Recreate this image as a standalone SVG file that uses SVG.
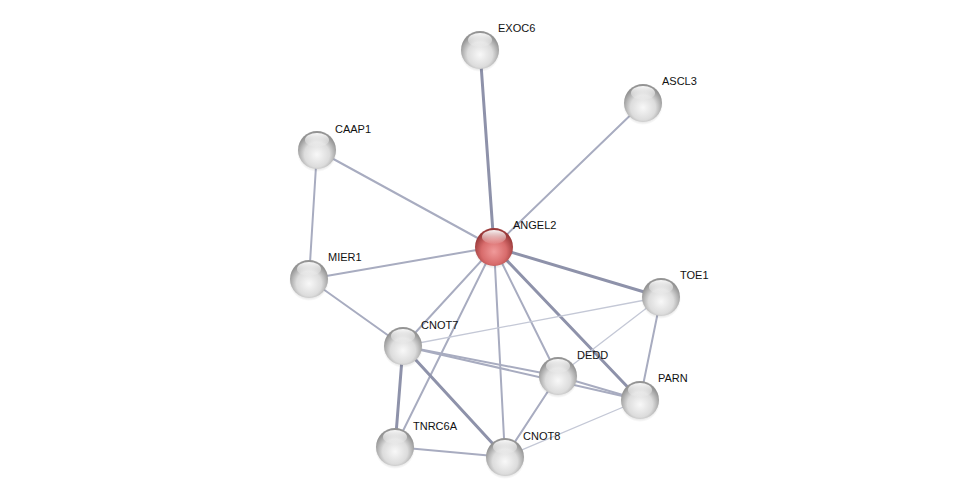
<svg xmlns="http://www.w3.org/2000/svg" width="976" height="503" viewBox="0 0 976 503">
<defs>
<radialGradient id="gg" cx="50%" cy="62%" r="55%">
<stop offset="0" stop-color="#f8f8f8"/>
<stop offset="0.6" stop-color="#dcdcdc"/>
<stop offset="1" stop-color="#949494"/>
</radialGradient>
<radialGradient id="rg" cx="50%" cy="62%" r="55%">
<stop offset="0" stop-color="#f09a9a"/>
<stop offset="0.6" stop-color="#d86c6c"/>
<stop offset="1" stop-color="#9a3a3a"/>
</radialGradient>
<linearGradient id="hl" x1="0" y1="0" x2="0" y2="1">
<stop offset="0" stop-color="#ffffff" stop-opacity="0.95"/>
<stop offset="1" stop-color="#ffffff" stop-opacity="0.05"/>
</linearGradient>
<radialGradient id="sh" cx="50%" cy="50%" r="50%">
<stop offset="0.6" stop-color="#000" stop-opacity="0.25"/>
<stop offset="1" stop-color="#000" stop-opacity="0"/>
</radialGradient>
</defs>
<style>
.e{fill:none;stroke-linecap:round}
.t{stroke:#c4c8d6;stroke-width:1.3}
.m{stroke:#a8acc0;stroke-width:2}
.k{stroke:#8e92aa;stroke-width:3}
text{font-family:"Liberation Sans",Arial,sans-serif;font-size:11px;fill:#111}
</style>
<rect width="976" height="503" fill="#fff"/>
<g id="edges">
<line class="e k" x1="494" y1="247" x2="480" y2="50"/>
<line class="e m" x1="494" y1="247" x2="643" y2="103"/>
<line class="e m" x1="494" y1="247" x2="317" y2="150"/>
<line class="e m" x1="494" y1="247" x2="309" y2="279"/>
<line class="e k" x1="494" y1="247" x2="661" y2="297"/>
<line class="e m" x1="494" y1="247" x2="403" y2="346"/>
<line class="e m" x1="494" y1="247" x2="558" y2="376"/>
<line class="e k" x1="494" y1="247" x2="640" y2="400"/>
<line class="e m" x1="494" y1="247" x2="395" y2="447"/>
<line class="e m" x1="494" y1="247" x2="505" y2="457"/>
<line class="e m" x1="317" y1="150" x2="309" y2="279"/>
<line class="e m" x1="309" y1="279" x2="403" y2="346"/>
<line class="e t" x1="403" y1="346" x2="661" y2="297"/>
<line class="e m" x1="403" y1="346" x2="558" y2="376"/>
<line class="e m" x1="403" y1="346" x2="640" y2="400"/>
<line class="e k" x1="403" y1="346" x2="395" y2="447"/>
<line class="e k" x1="403" y1="346" x2="505" y2="457"/>
<line class="e m" x1="395" y1="447" x2="505" y2="457"/>
<line class="e m" x1="505" y1="457" x2="558" y2="376"/>
<line class="e t" x1="505" y1="457" x2="640" y2="400"/>
<line class="e m" x1="558" y1="376" x2="640" y2="400"/>
<line class="e t" x1="558" y1="376" x2="661" y2="297"/>
<line class="e m" x1="661" y1="297" x2="640" y2="400"/>
</g>
<g id="EXOC6"><ellipse cx="480" cy="52" rx="20" ry="20" fill="url(#sh)"/><circle cx="480" cy="50" r="19" fill="url(#gg)"/><ellipse cx="480" cy="40" rx="12" ry="7" fill="url(#hl)"/><text x="498" y="32">EXOC6</text></g>
<g id="ASCL3"><ellipse cx="643" cy="105" rx="20" ry="20" fill="url(#sh)"/><circle cx="643" cy="103" r="19" fill="url(#gg)"/><ellipse cx="643" cy="93" rx="12" ry="7" fill="url(#hl)"/><text x="662" y="85">ASCL3</text></g>
<g id="CAAP1"><ellipse cx="317" cy="152" rx="20" ry="20" fill="url(#sh)"/><circle cx="317" cy="150" r="19" fill="url(#gg)"/><ellipse cx="317" cy="140" rx="12" ry="7" fill="url(#hl)"/><text x="335" y="133">CAAP1</text></g>
<g id="ANGEL2"><ellipse cx="494" cy="249" rx="20" ry="20" fill="url(#sh)"/><circle cx="494" cy="247" r="19" fill="url(#rg)"/><ellipse cx="494" cy="237" rx="12" ry="7" fill="url(#hl)"/><text x="513" y="229">ANGEL2</text></g>
<g id="MIER1"><ellipse cx="309" cy="281" rx="20" ry="20" fill="url(#sh)"/><circle cx="309" cy="279" r="19" fill="url(#gg)"/><ellipse cx="309" cy="269" rx="12" ry="7" fill="url(#hl)"/><text x="328" y="261">MIER1</text></g>
<g id="TOE1"><ellipse cx="661" cy="299" rx="20" ry="20" fill="url(#sh)"/><circle cx="661" cy="297" r="19" fill="url(#gg)"/><ellipse cx="661" cy="287" rx="12" ry="7" fill="url(#hl)"/><text x="680" y="279">TOE1</text></g>
<g id="CNOT7"><ellipse cx="403" cy="348" rx="20" ry="20" fill="url(#sh)"/><circle cx="403" cy="346" r="19" fill="url(#gg)"/><ellipse cx="403" cy="336" rx="12" ry="7" fill="url(#hl)"/><text x="421" y="329">CNOT7</text></g>
<g id="DEDD"><ellipse cx="558" cy="378" rx="20" ry="20" fill="url(#sh)"/><circle cx="558" cy="376" r="19" fill="url(#gg)"/><ellipse cx="558" cy="366" rx="12" ry="7" fill="url(#hl)"/><text x="577" y="359">DEDD</text></g>
<g id="PARN"><ellipse cx="640" cy="402" rx="20" ry="20" fill="url(#sh)"/><circle cx="640" cy="400" r="19" fill="url(#gg)"/><ellipse cx="640" cy="390" rx="12" ry="7" fill="url(#hl)"/><text x="658" y="382">PARN</text></g>
<g id="TNRC6A"><ellipse cx="395" cy="449" rx="20" ry="20" fill="url(#sh)"/><circle cx="395" cy="447" r="19" fill="url(#gg)"/><ellipse cx="395" cy="437" rx="12" ry="7" fill="url(#hl)"/><text x="413" y="430">TNRC6A</text></g>
<g id="CNOT8"><ellipse cx="505" cy="459" rx="20" ry="20" fill="url(#sh)"/><circle cx="505" cy="457" r="19" fill="url(#gg)"/><ellipse cx="505" cy="447" rx="12" ry="7" fill="url(#hl)"/><text x="523" y="440">CNOT8</text></g>
</svg>
